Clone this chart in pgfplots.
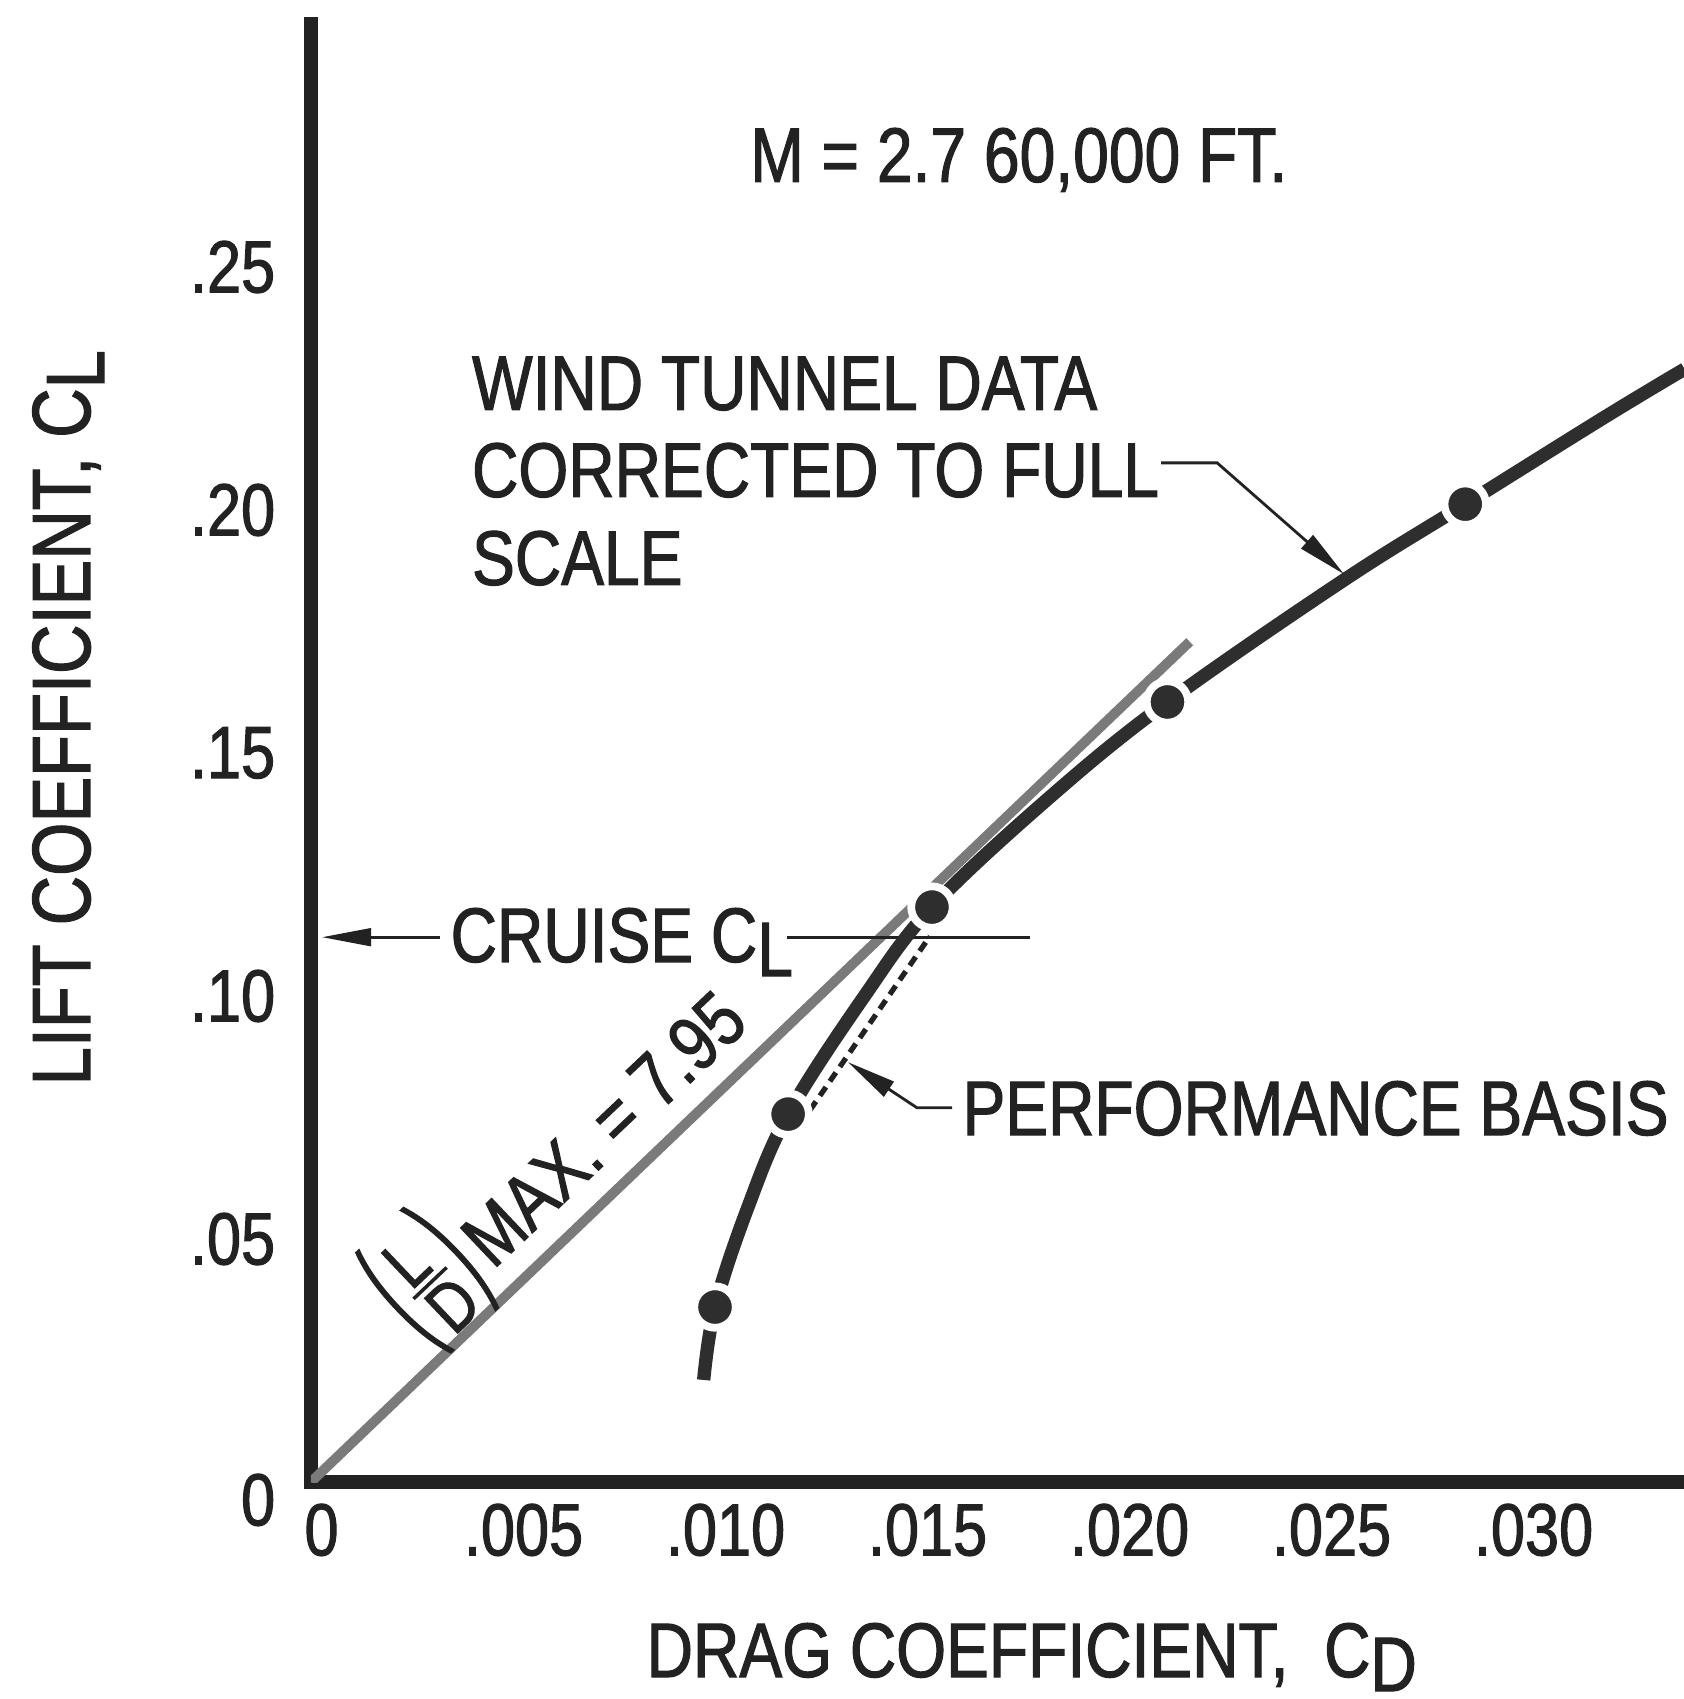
\documentclass[border=0pt]{standalone}
\usepackage{fontspec}
\setmainfont{Liberation Sans}[FakeStretch=0.83, FakeBold=1.4]
\usepackage{graphicx}
\usepackage{pgfplots}
\pgfplotsset{compat=1.18}
\usetikzlibrary{arrows.meta}

\definecolor{ink}{HTML}{222222}
\definecolor{curve}{HTML}{2E2E2E}
\definecolor{ldgrey}{HTML}{7A7A7A}

% full-size subscript letter, lowered as in the lettering of the chart
\newcommand{\sub}[1]{\raisebox{-4pt}{#1}}
\newcommand{\txt}{\fontsize{22}{26}\selectfont}
\newcommand{\lbl}{\fontsize{23.5}{27}\selectfont}
% L over D between tall thin parentheses
\newcommand{\fr}{\fontsize{20}{20}\selectfont}
\newcommand{\tallparen}[1]{\scalebox{0.9}[2.0]{\fontsize{21}{21}\selectfont #1}}
\newcommand{\LoverD}{%
  \tallparen{(}\kern1.5pt%
  \raisebox{4.5pt}{$\vcenter{\hbox{\fr\kern1pt L}\kern1.5pt\hrule height 1pt\kern1.5pt\hbox{\fr\kern1pt D}}$}%
  \kern1.5pt\tallparen{)}\kern2pt}

\begin{document}
\begin{tikzpicture}
\path[use as bounding box] (-3.11,-2.17) rectangle (13.73,14.82);
\begin{axis}[
  at={(0,0)}, anchor=south west,
  scale only axis, width=13.736cm, height=14.58cm,
  xmin=0, xmax=0.034, ymin=0, ymax=0.30,
  axis x line=bottom, axis y line=left,
  axis line style={-, line width=4pt, draw=ink, line cap=rect},
  scaled ticks=false,
  xtick={0,0.005,0.010,0.015,0.020,0.025,0.030},
  xticklabels={\mbox{0},\mbox{.005},\mbox{.010},\mbox{.015},\mbox{.020},\mbox{.025},\mbox{.030}},
  ytick={0,0.05,0.10,0.15,0.20,0.25},
  yticklabels={\mbox{\raisebox{-5pt}[\height][0pt]{0}},\mbox{.05},\mbox{.10},\mbox{.15},\mbox{.20},\mbox{.25}},
  major tick length=0pt,
  tick style={draw=none},
  xticklabel style={anchor=north, inner sep=0pt, yshift=-6pt, xshift=3pt, font=\fontsize{21}{21}\selectfont, text=ink},
  yticklabel style={anchor=east, inner sep=0pt, xshift=-10pt, font=\fontsize{21}{21}\selectfont, text=ink},
]
% (L/D) max ray through the origin, slope 7.95
\addplot[draw=ldgrey, line width=2.8pt] coordinates {(0,0) (0.02175,0.1729)};
% cruise lift coefficient line
\addplot[draw=ink, line width=0.9pt] coordinates {(0.01178,0.1121) (0.0178,0.1121)};
% performance basis
\addplot[draw=ink, line width=1.5pt, dash pattern=on 3pt off 2pt] coordinates {(0.01235,0.0765) (0.01532,0.1123)};
% drag polar faired through the wind tunnel points
\addplot[draw=curve, line width=3.8pt, smooth, tension=0.6] coordinates {
  (0.00972,0.0210) (0.0100,0.0360) (0.0108,0.0562) (0.01181,0.0757)
  (0.0137,0.1000) (0.01537,0.1183) (0.0183,0.1410) (0.0212,0.1605)
  (0.02557,0.1856) (0.02857,0.2012) (0.0320,0.2190) (0.0340,0.2290)};
% wind tunnel data points
\addplot[only marks, mark=*, mark size=5.9pt, mark options={fill=curve, draw=white, line width=2.2pt}] coordinates {
  (0.0100,0.0360) (0.01181,0.0757) (0.01537,0.1183) (0.0212,0.1605) (0.02857,0.2012)};

% lettering
\node[anchor=base, inner sep=0pt, text=ink, font=\txt] at (axis cs:0.01752,0.2675) {M = 2.7 60,000 FT.};
\node[anchor=base west, inner sep=0pt, text=ink, font=\txt] at (axis cs:0.00397,0.2206) {WIND TUNNEL DATA};
\node[anchor=base west, inner sep=0pt, text=ink, font=\txt] at (axis cs:0.00397,0.2027) {CORRECTED TO FULL};
\node[anchor=base west, inner sep=0pt, text=ink, font=\txt] at (axis cs:0.00397,0.1846) {SCALE};
\draw[ink, line width=0.8pt, -{Triangle[length=14pt,width=5pt]}]
  (axis cs:0.02104,0.2097) -- (axis cs:0.02243,0.2097) -- (axis cs:0.02557,0.1868);

\node[anchor=base west, inner sep=0pt, text=ink, font=\txt] at (axis cs:0.00344,0.1070) {CRUISE C\sub{L}};
\draw[ink, line width=0.9pt, -{Triangle[length=14pt,width=5pt]}]
  (axis cs:0.00319,0.1121) -- (axis cs:0.00027,0.1121);

\node[anchor=base west, inner sep=0pt, text=ink, font=\txt] at (axis cs:0.01611,0.0714) {PERFORMANCE BASIS};
\draw[ink, line width=0.8pt, -{Triangle[length=14pt,width=5pt]}]
  (axis cs:0.01587,0.0770) -- (axis cs:0.0150,0.0770) -- (axis cs:0.01329,0.0864);

\node[anchor=base east, inner sep=0pt, text=ink, font=\txt, rotate=43.5] at (axis cs:0.00450,0.0435)
  {\LoverD};
\node[anchor=base west, inner sep=0pt, text=ink, font=\txt, rotate=43.5] at (axis cs:0.00450,0.0435)
  {MAX. = 7.95};
\end{axis}

% axis titles
\node[anchor=base west, inner sep=0pt, text=ink, font=\txt] at (3.35,-1.95) {DRAG COEFFICIENT,\ \ C\sub{D}};
\node[anchor=base west, inner sep=0pt, text=ink, font=\lbl, rotate=90] at (-2.21,3.96) {LIFT COEFFICIENT, C\sub{L}};
\end{tikzpicture}
\end{document}
